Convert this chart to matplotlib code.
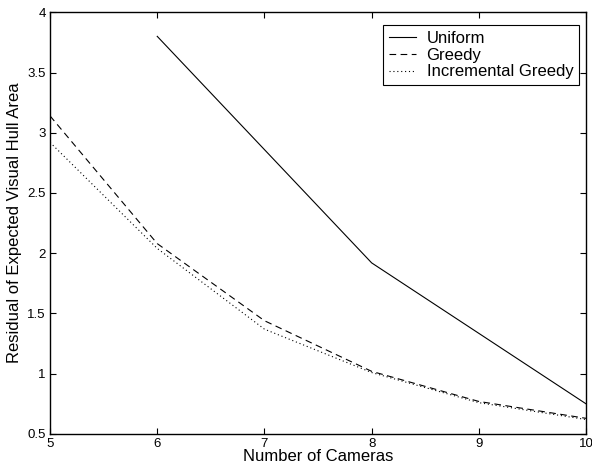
import matplotlib
matplotlib.use("Agg")
import matplotlib.pyplot as plt

plt.rcParams['font.family'] = ['Liberation Sans', 'DejaVu Sans']

# data
cams_uniform = [6, 8, 10]
uniform = [3.80, 1.92, 0.75]

cams = [5, 6, 7, 8, 9, 10]
greedy = [3.14, 2.08, 1.44, 1.02, 0.77, 0.63]
incr_greedy = [2.92, 2.04, 1.37, 1.01, 0.76, 0.62]

xticks = [5, 6, 7, 8, 9, 10]
yticks = [0.5, 1, 1.5, 2, 2.5, 3, 3.5, 4]
ytick_labels = ['0.5', '1', '1.5', '2', '2.5', '3', '3.5', '4']

fig = plt.figure(figsize=(5.92, 4.66), dpi=100)
ax = fig.add_axes([0.0845, 0.0687, 0.9055, 0.905])

ax.plot(cams_uniform, uniform, color='black', lw=0.8, ls='-', label='Uniform')
ax.plot(cams, greedy, color='black', lw=0.8, ls=(0, (6, 4)), label='Greedy')
ax.plot(cams, incr_greedy, color='black', lw=0.8, ls=(0, (1, 2.5)), label='Incremental Greedy')

ax.set_xlim(5, 10)
ax.set_ylim(0.5, 4)
ax.set_xticks(xticks)
ax.set_yticks(yticks)
ax.set_yticklabels(ytick_labels)
ax.tick_params(direction='in', top=True, right=True, labelsize=9.5, length=4, width=0.8, pad=3)

for s in ax.spines.values():
    s.set_linewidth(1.0)

ax.set_xlabel('Number of Cameras', fontsize=12, labelpad=-1)
ax.set_ylabel('Residual of Expected Visual Hull Area', fontsize=12, labelpad=4)

leg = ax.legend(loc='upper right', bbox_to_anchor=(0.987, 0.969), fontsize=12,
                fancybox=False, framealpha=1, edgecolor='black', borderaxespad=0,
                handlelength=1.6, borderpad=0.35, labelspacing=0.1, handletextpad=0.65)
leg.get_frame().set_linewidth(0.8)

fig.savefig('out.png', dpi=100)
